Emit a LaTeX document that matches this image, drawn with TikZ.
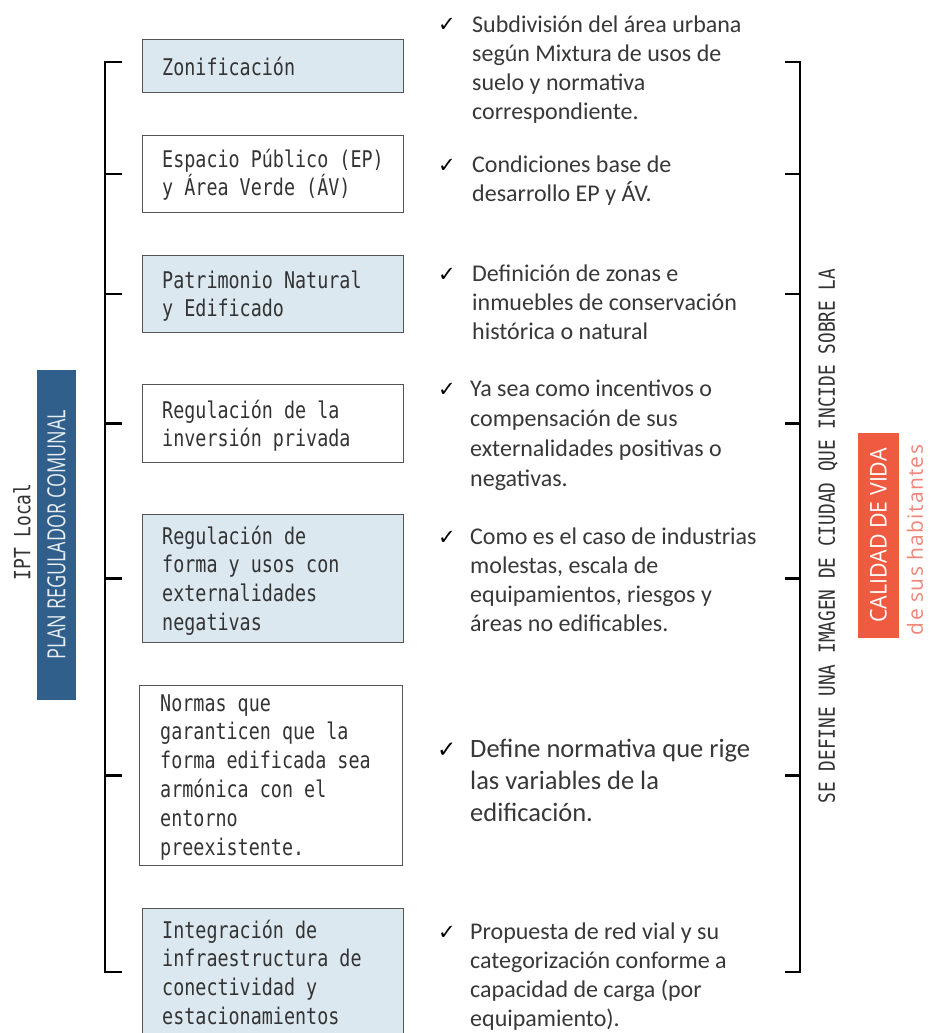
\documentclass[tikz,border=0pt]{standalone}
\usepackage{fontspec}
\setmainfont{Carlito}
\newfontfamily\boxfont[FakeStretch=0.80]{DejaVu Sans Mono}
\newfontfamily\checkfont{DejaVu Sans}
\newfontfamily\plancond[FakeStretch=0.72]{Open Sans}
\newfontfamily\calcond[FakeStretch=0.93]{Open Sans}
\newfontfamily\habfont[LetterSpace=6]{Open Sans}
\definecolor{boxfill}{HTML}{DCE8F0}
\definecolor{boxline}{HTML}{555555}
\definecolor{barblue}{HTML}{2F5F8A}
\definecolor{calred}{HTML}{EE5B40}
\definecolor{salmon}{HTML}{F0857A}
\definecolor{txtdark}{HTML}{333333}
\definecolor{txtdesc}{HTML}{383838}
\definecolor{plantext}{HTML}{E8EEF3}
\begin{document}
\begin{tikzpicture}[x=1pt,y=-1pt,
  box/.style={draw=boxline, line width=1.3pt, anchor=north west, inner sep=0pt},
  bluebox/.style={box, fill=boxfill},
  whitebox/.style={box, fill=white},
  boxtext/.style={anchor=base west, inner sep=0pt, align=left, text=txtdark,
    font=\boxfont\fontsize{23}{28.8}\selectfont},
  desc/.style={anchor=base west, inner sep=0pt, align=left, text=txtdesc,
    font=\fontsize{24}{29}\selectfont},
  chk/.style={anchor=base west, inner sep=0pt, text=black,
    font=\checkfont\fontsize{21}{24}\selectfont},
  bracket/.style={line width=2.4pt, black},
]
\clip (0,0) rectangle (930,1033);
\fill[white] (0,0) rectangle (930,1033);

% boxes
\node[bluebox,  minimum width=261pt, minimum height=53pt]  (b1) at (142,39) {};
\node[whitebox, minimum width=261pt, minimum height=77pt]  (b2) at (142,135) {};
\node[bluebox,  minimum width=261pt, minimum height=77pt]  (b3) at (142,255) {};
\node[whitebox, minimum width=261pt, minimum height=78pt]  (b4) at (142,384) {};
\node[bluebox,  minimum width=261pt, minimum height=128pt] (b5) at (142,514) {};
\node[whitebox, minimum width=263pt, minimum height=180pt] (b6) at (139,685) {};
\node[bluebox,  minimum width=261pt, minimum height=140pt] (b7) at (142,908) {};

% box texts (anchor = baseline of the last line)
\node[boxtext] (t1) at (162,75) {Zonificación};
\node[boxtext] (t2) at (162,195.8) {Espacio Público (EP)\\y Área Verde (ÁV)};
\node[boxtext] (t3) at (162,316.8) {Patrimonio Natural\\y Edificado};
\node[boxtext] (t4) at (162,446.8) {Regulación de la\\inversión privada};
\node[boxtext] (t5) at (162,630.4) {Regulación de\\forma y usos con\\externalidades\\negativas};
\node[boxtext] (t6) at (160,855) {Normas que\\garanticen que la\\forma edificada sea\\armónica con el\\entorno\\preexistente.};
\node[boxtext] (t7) at (162,1024.4) {Integración de\\infraestructura de\\conectividad y\\estacionamientos};

% descriptions (anchor = baseline of the last line)
\node[chk] (c1) at (438,32) {✓};
\node[desc] (d1) at (472,119) {Subdivisión del área urbana\\según Mixtura de usos de\\suelo y normativa\\correspondiente.};
\node[chk] (c2) at (438,172) {✓};
\node[desc] (d2) at (472,201) {Condiciones base de\\desarrollo EP y ÁV.};
\node[chk] (c3) at (438,281) {✓};
\node[desc] (d3) at (472,339) {Definición de zonas e\\inmuebles de conservación\\histórica o natural};
\node[chk] (c4) at (438,396) {✓};
\node[desc, font=\fontsize{24}{30}\selectfont] (d4) at (470,486) {Ya sea como incentivos o\\compensación de sus\\externalidades positivas o\\negativas.};
\node[chk] (c5) at (438,544) {✓};
\node[desc] (d5) at (470,631) {Como es el caso de industrias\\molestas, escala de\\equipamientos, riesgos y\\áreas no edificables.};
\node[chk, font=\checkfont\fontsize{23}{26}\selectfont] (c6) at (437,757) {✓};
\node[desc, font=\fontsize{26.5}{32}\selectfont] (d6) at (470,821) {Define normativa que rige\\las variables de la\\edificación.};
\node[chk] (c7) at (438,939) {✓};
\node[desc] (d7) at (470,1026) {Propuesta de red vial y su\\categorización conforme a\\capacidad de carga (por\\equipamiento).};

% left labels
\node[rotate=90, inner sep=0pt, text=txtdark, font=\boxfont\fontsize{22.4}{26}\selectfont] (ipt) at (22,532) {IPT Local};
\node[rotate=90, fill=barblue, minimum width=330pt, minimum height=39pt, inner sep=0pt,
  text=plantext, font=\plancond\fontsize{25}{28}\selectfont] (plan) at (56.5,535) {PLAN REGULADOR COMUNAL};

% right labels
\node[rotate=90, inner sep=0pt, text=txtdark, font=\boxfont\fontsize{22.2}{26}\selectfont] (se) at (828,536) {SE DEFINE UNA IMAGEN DE CIUDAD QUE INCIDE SOBRE LA};
\node[rotate=90, fill=calred, minimum width=205pt, minimum height=41pt, inner sep=0pt,
  text=white, font=\calcond\fontsize{23}{26}\selectfont] (cal) at (878.5,535.5) {CALIDAD DE VIDA};
\node[rotate=90, inner sep=0pt, text=salmon, font=\habfont\fontsize{21}{24}\selectfont] (hab) at (915,540) {de sus habitantes};

% brackets
\coordinate (L) at (105,0);
\coordinate (R) at (800,0);
\draw[bracket] (122,62) -| (105,972) -- (122,972);
\draw[bracket] (785,62) -| (800,972) -- (785,972);
\foreach \b in {b2,b3,b4,b5,b6} {
  \draw[bracket] (L |- \b.west) -- ++(17,0);
  \draw[bracket] (R |- \b.west) -- ++(-15,0);
}
\end{tikzpicture}
\end{document}
